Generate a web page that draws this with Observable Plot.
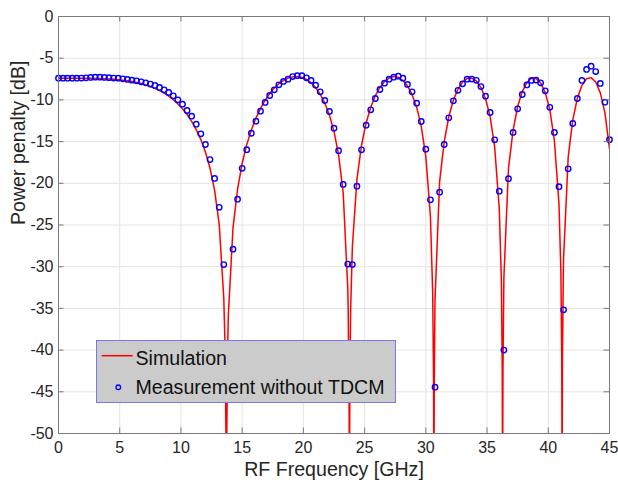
<!DOCTYPE html>
<html><head><meta charset="utf-8">
<script src="https://cdn.jsdelivr.net/npm/d3@7"></script>
<script src="https://cdn.jsdelivr.net/npm/@observablehq/plot@0.6"></script>
<style>
body{margin:0;background:#fff;}
#chart{position:relative;width:618px;height:483px;font-family:"Liberation Sans",Arial,Helvetica,sans-serif;}
#legend{position:absolute;left:0;top:0;pointer-events:none;}
</style></head><body>
<div id="chart"></div>
<script>
const freqGHz = [0,0.375,0.75,1.125,1.5,1.875,2.25,2.625,3,3.375,3.75,4.125,4.5,4.875,5.25,5.625,6,6.375,6.75,7.125,
7.5,7.875,8.25,8.625,9,9.375,9.75,10.125,10.5,10.875,11.25,11.625,12,12.375,12.75,13.125,13.5,13.875,14.25,14.625,
15,15.375,15.75,16.125,16.5,16.875,17.25,17.625,18,18.375,18.75,19.125,19.5,19.875,20.25,20.625,21,21.375,21.75,22.125,
22.5,22.875,23.25,23.625,24,24.375,24.75,25.125,25.5,25.875,26.25,26.625,27,27.375,27.75,28.125,28.5,28.875,29.25,29.625,
30,30.375,30.75,31.125,31.5,31.875,32.25,32.625,33,33.375,33.75,34.125,34.5,34.875,35.25,35.625,36,36.375,36.75,37.125,
37.5,37.875,38.25,38.625,39,39.375,39.75,40.125,40.5,40.875,41.25,41.625,42,42.375,42.75,43.125,43.5,43.875,44.25,44.625,45];

const measuredDB = [-7.39,-7.39,-7.39,-7.39,-7.39,-7.38,-7.35,-7.31,-7.27,-7.27,
-7.30,-7.34,-7.38,-7.39,-7.47,-7.55,-7.63,-7.71,-7.83,-7.95,
-8.10,-8.27,-8.50,-8.79,-9.11,-9.51,-9.99,-10.51,-11.27,-11.95,
-12.91,-14.07,-15.35,-17.15,-19.42,-22.88,-29.74,null,-27.9,-21.9,
-18.2,-15.97,-14.0,-12.55,-11.35,-10.3,-9.47,-8.79,-8.19,-7.79,
-7.52,-7.2,-7.1,-7.1,-7.35,-7.67,-8.23,-9.03,-10.07,-11.39,
-13.39,-16.1,-20.14,-29.68,-29.74,-20.34,-15.99,-13.03,-11.19,-9.83,
-8.75,-8.0,-7.52,-7.27,-7.15,-7.4,-8.15,-9.03,-10.39,-12.59,
-15.91,-21.98,-44.45,-21.06,-15.35,-12.15,-10.11,-8.85,-8.07,-7.52,
-7.5,-7.65,-8.4,-9.55,-11.51,-14.79,-20.94,-40.0,-19.44,-13.9,
-11.07,-9.35,-8.21,-7.67,-7.62,-7.95,-8.91,-10.89,-13.9,-20.4,
-35.17,-18.26,-12.83,-9.83,-7.67,-6.35,-5.96,-6.6,-8.03,-10.27,
-14.78];

const simulatedDB = [-7.40,-7.40,-7.40,-7.40,-7.40,-7.40,-7.41,-7.41,-7.42,-7.44,
-7.46,-7.49,-7.53,-7.57,-7.63,-7.71,-7.80,-7.91,-8.04,-8.20,
-8.39,-8.62,-8.88,-9.19,-9.56,-9.98,-10.48,-11.06,-11.75,-12.57,
-13.56,-14.76,-16.25,-18.19,-20.84,-24.9,-33.8,-35.65,-25.37,-20.66,
-17.60,-15.36,-13.60,-12.18,-11.01,-10.04,-9.24,-8.58,-8.06,-7.67,
-7.39,-7.24,-7.20,-7.30,-7.55,-7.94,-8.52,-9.32,-10.39,-11.82,
-13.78,-16.59,-21.1,-32.6,-27.6,-19.5,-15.41,-12.76,-10.88,-9.50,
-8.50,-7.80,-7.38,-7.20,-7.29,-7.65,-8.31,-9.34,-10.87,-13.15,
-16.8,-24.0,-34.0,-19.8,-15.03,-12.02,-10.03,-8.70,-7.86,-7.42,
-7.38,-7.73,-8.52,-9.86,-11.98,-15.7,-23.1,-31.3,-18.2,-13.66,
-10.79,-9.00,-7.92,-7.41,-7.42,-7.96,-9.13,-11.14,-14.9,-22.5,
-29.0,-16.9,-12.4,-9.81,-8.25,-7.46,-7.33,-7.86,-9.16,-11.53,
-15.88];

// extra simulation samples around the deep notches
const notchFreqGHz = [13.61,13.68,13.71,13.74,13.81,
23.66,23.73,23.745,23.76,23.775,23.79,23.86,
30.56,30.63,30.648,30.66,30.672,30.69,
36.17,36.24,36.26,36.27,36.28,36.30,
41.03,41.10,41.12,41.13,41.14,41.16,41.23];
const notchDB = [-40.1,-50.6,-75,-50.6,-40.1,
-35.2,-45.7,-51.7,-75,-51.7,-45.7,-35.2,
-33.1,-43.5,-51.5,-75,-51.5,-43.5,
-31.7,-42.2,-51.7,-75,-51.7,-42.2,
-30.6,-41.1,-50.6,-75,-50.6,-41.1,-30.6];

const xTicks = [0,5,10,15,20,25,30,35,40,45];
const yTicks = [0,-5,-10,-15,-20,-25,-30,-35,-40,-45,-50];
const xLabel = "RF Frequency [GHz]";
const yLabel = "Power penalty [dB]";
const seriesNames = ["Simulation","Measurement without TDCM"];

const simTable = freqGHz.map((f,i)=>({f, p: simulatedDB[i]}))
  .concat(notchFreqGHz.map((f,i)=>({f, p: notchDB[i]})))
  .sort((a,b)=>a.f-b.f);
const measTable = freqGHz.map((f,i)=>({f, p: measuredDB[i]})).filter(d=>d.p!=null);

const W=618, H=483, mL=58, mR=9, mT=16, mB=50;
const innerW = W-mL-mR, innerH = H-mT-mB;
const tk = 5.5;
const axisCol = "#7a7a7a";
const font = "'Liberation Sans',Arial,Helvetica,sans-serif";

const plot = Plot.plot({
  width: W, height: H,
  marginLeft: mL, marginRight: mR, marginTop: mT, marginBottom: mB,
  style: {fontFamily: font, fontSize: "16px", color: "#262626", background: "#ffffff"},
  x: {domain: [0,45], label: null},
  y: {domain: [-50,0], label: null},
  marks: [
    Plot.gridX({ticks: xTicks, stroke: "#e4e4e4", strokeOpacity: 1}),
    Plot.gridY({ticks: yTicks, stroke: "#e4e4e4", strokeOpacity: 1}),
    Plot.line(simTable, {x: "f", y: "p", stroke: "#ff0000", strokeWidth: 1.5, clip: true}),
    Plot.dot(measTable, {x: "f", y: "p", r: 2.7, stroke: "#0000ff", strokeWidth: 1.4, fill: "none"}),
    Plot.frame({stroke: axisCol}),
    Plot.tickX(xTicks, {x: d=>d, insetTop: innerH - tk, stroke: axisCol}),
    Plot.tickX(xTicks, {x: d=>d, insetBottom: innerH - tk, stroke: axisCol}),
    Plot.tickY(yTicks, {y: d=>d, insetRight: innerW - tk, stroke: axisCol}),
    Plot.tickY(yTicks, {y: d=>d, insetLeft: innerW - tk, stroke: axisCol}),
    Plot.axisX({ticks: xTicks, tickSize: 0, tickPadding: 8, tickFormat: d=>String(d), label: null, fontSize: 16}),
    Plot.axisY({ticks: yTicks, tickSize: 0, tickPadding: 5, tickFormat: d=>String(d), label: null, fontSize: 16}),
    Plot.text([xLabel], {text: d=>d, frameAnchor: "bottom", dy: 42, fontSize: 19.6, fill: "#262626"}),
    Plot.text([yLabel], {text: d=>d, frameAnchor: "left", dx: -40, rotate: -90, fontSize: 19.6, fill: "#262626"})
  ]
});
const chart = document.getElementById("chart");
chart.appendChild(plot);

// legend overlay (inside the axes, lower left)
const ns = "http://www.w3.org/2000/svg";
const lg = document.createElementNS(ns, "svg");
lg.setAttribute("id","legend");
lg.setAttribute("width", W); lg.setAttribute("height", H);
lg.innerHTML = `
<rect x="96.5" y="340.5" width="299" height="62" fill="#cbcbcb" stroke="#7777f2" stroke-width="1"/>
<line x1="101.7" x2="132.7" y1="355.7" y2="355.7" stroke="#ff0000" stroke-width="1.5"/>
<circle cx="118.3" cy="387.3" r="2.3" fill="none" stroke="#0000ff" stroke-width="1.3"/>
<text x="135.5" y="364.5" font-family="${font}" font-size="19.6" fill="#111">${seriesNames[0]}</text>
<text x="135.5" y="394.3" font-family="${font}" font-size="19.6" fill="#111">${seriesNames[1]}</text>`;
chart.appendChild(lg);
</script>
</body></html>
